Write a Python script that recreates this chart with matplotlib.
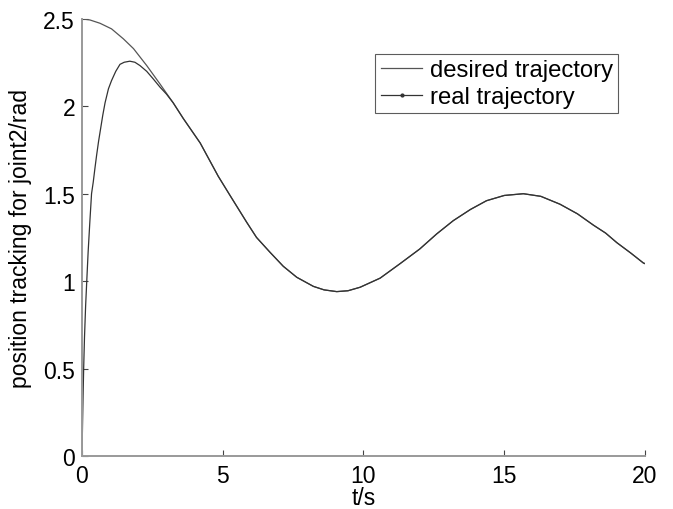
import matplotlib
matplotlib.use("Agg")
import matplotlib.pyplot as plt
from matplotlib.lines import Line2D

plt.rcParams['font.family'] = ['Liberation Sans', 'DejaVu Sans']

# desired trajectory
t_desired = [0, 0.28, 0.64, 1.05, 1.47, 1.83, 2.3, 2.77, 3.0, 3.24, 3.6, 4.2, 4.84, 5.26,
             5.85, 6.2, 6.68, 7.15, 7.63, 8.22, 8.6, 9.05, 9.45, 9.88, 10.59, 11.3, 12.0,
             12.6, 13.19, 13.8, 14.37, 15.0, 15.68, 16.3, 16.98, 17.6, 18.17, 18.6, 19.0,
             19.5, 19.94, 20]
y_desired = [2.5, 2.494, 2.475, 2.443, 2.386, 2.33, 2.233, 2.128, 2.075, 2.02, 1.93, 1.79,
             1.60, 1.49, 1.337, 1.25, 1.165, 1.085, 1.022, 0.97, 0.95, 0.94, 0.945, 0.965,
             1.017, 1.10, 1.184, 1.27, 1.346, 1.41, 1.46, 1.49, 1.50, 1.485, 1.44, 1.385,
             1.32, 1.275, 1.22, 1.16, 1.104, 1.10]

# real trajectory
t_real = [0, 0.02, 0.04, 0.06, 0.09, 0.13, 0.17, 0.22, 0.28, 0.34, 0.4, 0.46, 0.52, 0.59,
          0.66, 0.74, 0.82, 0.94, 1.05, 1.2, 1.35, 1.5, 1.7, 1.88, 2.06, 2.3, 2.53, 2.77,
          3.0, 3.24, 3.6, 4.2, 4.84, 5.26, 5.85, 6.2, 6.68, 7.15, 7.63, 8.22, 8.6, 9.05,
          9.45, 9.88, 10.59, 11.3, 12.0, 12.6, 13.19, 13.8, 14.37, 15.0, 15.68, 16.3,
          16.98, 17.6, 18.17, 18.6, 19.0, 19.5, 19.94, 20]
y_real = [0, 0.18, 0.35, 0.5, 0.68, 0.86, 1.0, 1.17, 1.34, 1.5, 1.566, 1.645, 1.72, 1.8,
          1.87, 1.95, 2.02, 2.10, 2.147, 2.20, 2.24, 2.252, 2.258, 2.252, 2.233, 2.2, 2.157,
          2.11, 2.07, 2.02, 1.93, 1.79, 1.60, 1.49, 1.337, 1.25, 1.165, 1.085, 1.022, 0.97,
          0.95, 0.94, 0.945, 0.965, 1.017, 1.10, 1.184, 1.27, 1.346, 1.41, 1.46, 1.49,
          1.50, 1.485, 1.44, 1.385, 1.32, 1.275, 1.22, 1.16, 1.104, 1.10]

x_ticks = [0, 5, 10, 15, 20]
y_ticks = [0, 0.5, 1, 1.5, 2, 2.5]
y_tick_labels = ['0', '0.5', '1', '1.5', '2', '2.5']

fig = plt.figure(figsize=(6.73, 5.10), dpi=100)
ax = fig.add_axes([0.1218, 0.104, 0.8366, 0.857])

ax.plot(t_desired, y_desired, color='#555555', lw=0.9)
ax.plot(t_real, y_real, color='#333333', lw=0.9)

ax.set_xlim(0, 20)
ax.set_ylim(0, 2.5)
ax.set_xticks(x_ticks)
ax.set_yticks(y_ticks)
ax.set_yticklabels(y_tick_labels)

for side in ['top', 'right']:
    ax.spines[side].set_visible(False)
for side in ['left', 'bottom']:
    ax.spines[side].set_color('#999999')
    ax.spines[side].set_linewidth(1.4)
ax.tick_params(direction='in', length=4, width=0.8, color='#444444', labelsize=16.5)
ax.tick_params(axis='x', pad=6)
ax.tick_params(axis='y', pad=5)

ax.set_xlabel('t/s', fontsize=16.5, labelpad=-1)
ax.set_ylabel('position tracking for joint2/rad', fontsize=16.5, labelpad=8)

handles = [Line2D([], [], color='#555555', lw=0.9),
           Line2D([], [], color='#333333', lw=0.9, marker='.', markersize=4)]
leg = ax.legend(handles, ['desired trajectory', 'real trajectory'],
                loc='upper right', bbox_to_anchor=(0.952, 0.92), fontsize=17.2,
                frameon=True, fancybox=False, handlelength=1.75, handletextpad=0.3,
                borderpad=0.22, labelspacing=0.2, borderaxespad=0)
leg.get_frame().set_edgecolor('#333333')
leg.get_frame().set_linewidth(0.8)

fig.savefig('out.png', dpi=100)
